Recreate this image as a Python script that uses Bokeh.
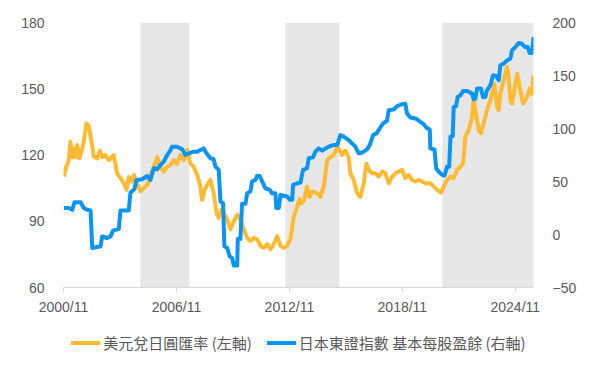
from bokeh.plotting import figure
from bokeh.layouts import column
from bokeh.models import (Range1d, LinearAxis, FixedTicker, BoxAnnotation,
                          Legend, LegendItem, ColumnDataSource)
from bokeh.embed import file_html
from bokeh.resources import INLINE

# ---------------- data (decimal years) ----------------
usd_t = [2000.85, 2000.98, 2001.11, 2001.20, 2001.30, 2001.38, 2001.47, 2001.56, 2001.68, 2001.83,
         2001.91, 2002.05, 2002.18, 2002.36, 2002.44, 2002.62, 2002.76, 2002.89, 2003.06, 2003.24,
         2003.50, 2003.68, 2003.86, 2004.04, 2004.18, 2004.30, 2004.48, 2004.57, 2004.75, 2004.92,
         2005.10, 2005.28, 2005.45, 2005.63, 2005.81, 2005.98, 2006.16, 2006.34, 2006.52, 2006.69,
         2006.87, 2007.05, 2007.22, 2007.40, 2007.58, 2007.75, 2007.93, 2008.07, 2008.20, 2008.32,
         2008.46, 2008.64, 2008.81, 2008.96, 2009.08, 2009.21, 2009.35, 2009.53, 2009.70, 2009.88,
         2010.06, 2010.23, 2010.41, 2010.59, 2010.76, 2010.94, 2011.12, 2011.30, 2011.47, 2011.65,
         2011.83, 2012.00, 2012.18, 2012.36, 2012.53, 2012.71, 2012.89, 2013.06, 2013.24, 2013.38,
         2013.42, 2013.59, 2013.77, 2013.91, 2014.04, 2014.30, 2014.48, 2014.66, 2014.84, 2015.01,
         2015.19, 2015.37, 2015.51, 2015.63, 2015.81, 2015.98, 2016.07, 2016.25, 2016.43, 2016.60,
         2016.78, 2016.92, 2017.05, 2017.23, 2017.40, 2017.58, 2017.76, 2017.93, 2018.11, 2018.29,
         2018.46, 2018.64, 2018.82, 2018.99, 2019.17, 2019.35, 2019.53, 2019.70, 2019.88, 2020.06,
         2020.32, 2020.50, 2020.68, 2020.89, 2021.03, 2021.21, 2021.39, 2021.56, 2021.74, 2021.92,
         2022.06, 2022.18, 2022.36, 2022.54, 2022.62, 2022.71, 2022.89, 2023.01, 2023.15, 2023.33,
         2023.51, 2023.72, 2023.86, 2023.95, 2024.04, 2024.22, 2024.40, 2024.48, 2024.57, 2024.66,
         2024.78, 2024.93, 2025.10, 2025.25, 2025.46, 2025.60, 2025.72, 2025.80]
usd_v = [110.2, 114.7, 117.7, 126.0, 119.0, 123.0, 119.0, 124.5, 118.5, 123.0,
         126.0, 134.3, 133.0, 124.0, 119.2, 118.5, 122.0, 119.0, 120.0, 117.7,
         120.0, 111.7, 109.5, 107.3, 104.2, 110.0, 108.0, 111.0, 107.0, 103.5,
         105.0, 106.5, 111.0, 114.7, 119.0, 114.7, 112.5, 114.7, 115.5, 117.7,
         116.0, 120.0, 117.7, 122.3, 116.0, 114.7, 111.0, 107.0, 99.7, 104.0,
         106.5, 108.7, 102.7, 93.7, 91.5, 95.2, 93.7, 90.7, 86.3, 90.0,
         93.0, 90.7, 86.3, 82.5, 81.0, 82.5, 81.8, 78.8, 78.0, 79.6,
         77.3, 79.6, 83.3, 78.8, 78.0, 78.8, 82.0, 92.0, 96.5, 100.0,
         98.0, 99.0, 105.7, 101.0, 103.5, 102.7, 101.0, 105.7, 117.7, 119.0,
         120.0, 123.7, 122.0, 120.0, 122.0, 119.0, 111.7, 108.7, 102.7, 101.0,
         107.0, 116.2, 113.3, 111.7, 111.7, 110.2, 112.5, 111.7, 107.2, 110.2,
         111.7, 112.5, 113.3, 109.5, 111.0, 108.7, 108.0, 108.7, 108.0, 107.2,
         107.2, 105.7, 104.2, 103.0, 105.7, 108.7, 110.2, 109.5, 113.2, 114.7,
         116.2, 128.3, 131.3, 137.3, 146.3, 140.3, 131.3, 129.8, 134.3, 140.3,
         144.8, 152.3, 141.8, 140.3, 147.8, 153.8, 159.8, 155.3, 144.8, 143.3,
         149.3, 156.8, 149.3, 143.3, 146.3, 150.0, 147.8, 156.0]

eps_t = [2000.85, 2001.11, 2001.30, 2001.42, 2001.74, 2001.91, 2002.09, 2002.27, 2002.36, 2002.62,
         2002.80, 2002.89, 2003.15, 2003.33, 2003.47, 2003.77, 2003.86, 2004.30, 2004.39, 2004.60,
         2004.71, 2005.01, 2005.28, 2005.45, 2005.63, 2005.81, 2005.98, 2006.16, 2006.34, 2006.52,
         2006.60, 2006.87, 2007.14, 2007.31, 2007.49, 2007.75, 2007.93, 2008.11, 2008.28, 2008.43,
         2008.64, 2008.81, 2008.90, 2009.08, 2009.17, 2009.31, 2009.38, 2009.53, 2009.66, 2009.79,
         2009.88, 2010.06, 2010.09, 2010.23, 2010.32, 2010.50, 2010.59, 2010.76, 2010.85, 2011.03,
         2011.12, 2011.26, 2011.39, 2011.56, 2011.79, 2011.91, 2012.09, 2012.14, 2012.27, 2012.36,
         2012.53, 2012.71, 2012.85, 2012.98, 2013.03, 2013.25, 2013.42, 2013.56, 2013.77, 2013.86,
         2014.09, 2014.21, 2014.39, 2014.57, 2014.75, 2014.92, 2015.16, 2015.37, 2015.54, 2015.72,
         2015.98, 2016.16, 2016.34, 2016.51, 2016.69, 2016.96, 2017.10, 2017.28, 2017.46, 2017.63,
         2017.81, 2018.02, 2018.11, 2018.37, 2018.55, 2018.82, 2018.99, 2019.08, 2019.26, 2019.53,
         2019.79, 2019.97, 2020.15, 2020.29, 2020.32, 2020.54, 2020.63, 2020.76, 2020.94, 2021.07,
         2021.21, 2021.32, 2021.39, 2021.51, 2021.56, 2021.69, 2021.77, 2021.92, 2022.06, 2022.27,
         2022.54, 2022.62, 2022.71, 2022.80, 2023.01, 2023.12, 2023.24, 2023.33, 2023.51, 2023.65,
         2023.83, 2023.95, 2024.04, 2024.22, 2024.40, 2024.57, 2024.66, 2024.84, 2025.01, 2025.19,
         2025.36, 2025.49, 2025.60, 2025.72, 2025.80]
eps_v = [24.9, 25.0, 23.3, 30.5, 30.4, 25.0, 23.3, 22.7, -12.7, -11.8,
         -11.2, -1.8, -3.3, -1.8, 3.9, 5.1, 22.7, 22.7, 39.6, 42.7,
         51.5, 52.1, 55.2, 51.5, 62.5, 61.5, 65.6, 68.7, 75.0, 79.7,
         82.8, 82.8, 80.3, 75.0, 76.6, 78.1, 78.1, 79.7, 81.2, 76.6,
         71.9, 71.0, 64.0, 61.0, 31.1, 29.5, -11.2, -12.7, -20.6, -22.2,
         -29.3, -29.3, -4.2, -4.2, 29.0, 29.0, 39.0, 40.6, 49.9, 51.5,
         55.5, 55.2, 49.9, 43.6, 42.0, 38.9, 38.9, 25.0, 25.0, 37.4,
         36.5, 35.8, 32.7, 32.7, 46.8, 48.3, 49.0, 60.9, 62.5, 71.9,
         72.8, 78.1, 81.2, 79.1, 81.2, 82.8, 84.4, 84.4, 93.8, 92.3,
         89.1, 86.0, 82.8, 76.6, 77.2, 80.3, 84.4, 93.8, 95.4, 100.1,
         104.8, 107.3, 117.3, 117.9, 121.0, 122.9, 123.5, 114.2, 110.4, 109.5,
         106.3, 104.1, 100.1, 99.2, 81.2, 80.3, 62.5, 59.4, 56.2, 55.6,
         64.0, 64.0, 92.2, 92.8, 120.4, 121.0, 129.8, 131.3, 135.4, 135.4,
         132.9, 127.6, 128.2, 137.7, 137.7, 129.8, 129.8, 136.0, 140.8, 150.2,
         149.3, 145.5, 159.6, 161.2, 164.3, 165.9, 173.7, 176.8, 180.6, 179.9,
         176.8, 176.8, 171.2, 171.2, 186.2]

shade_start = [2004.92, 2012.62, 2020.96]
shade_end = [2007.52, 2015.49, 2025.80]

x_tick_years = [2000, 2006, 2012, 2018, 2024]
x_tick_labels = ["2000/11", "2006/11", "2012/11", "2018/11", "2024/11"]
left_ticks = [60, 90, 120, 150, 180]
right_ticks = [-50, 0, 50, 100, 150, 200]

series_names = ["美元兌日圓匯率 (左軸)", "日本東證指數 基本每股盈餘 (右軸)"]

# ---------------- helpers ----------------
T0 = 2000 + 10 / 12.0


def to_month(t):
    return (t - T0) * 12.0


X_END = to_month(2025.80)

TXT = "#595959"
FONT = "Liberation Sans"
CJK = "Noto Sans CJK TC"
C_USD = "#FFBA33"
C_EPS = "#0A95F5"

p = figure(width=594, height=317, output_backend="svg", toolbar_location=None,
           x_range=Range1d(0, X_END), y_range=Range1d(60, 180),
           min_border_left=63, min_border_right=61, min_border_top=22,
           min_border_bottom=29)
p.extra_y_ranges = {"right": Range1d(-50, 200)}
p.outline_line_color = None
p.xgrid.visible = False
p.ygrid.visible = False
p.background_fill_color = "white"
p.border_fill_color = "white"

for s, e in zip(shade_start, shade_end):
    p.add_layout(BoxAnnotation(left=to_month(s), right=to_month(e),
                               fill_color="#e7e6e6", fill_alpha=1.0,
                               line_alpha=0, level="underlay"))

src_usd = ColumnDataSource(dict(x=[to_month(t) for t in usd_t], y=usd_v))
src_eps = ColumnDataSource(dict(x=[to_month(t) for t in eps_t], y=eps_v))

p.line("x", "y", source=src_usd, line_color=C_USD, line_width=4, line_join="round")
p.line("x", "y", source=src_eps, line_color=C_EPS, line_width=4, line_join="round",
       y_range_name="right")

# x axis
xa = p.xaxis[0]
month_ticks = [int(round((y + 10 / 12.0 - T0) * 12)) for y in x_tick_years]
xa.ticker = FixedTicker(ticks=month_ticks)
xa.major_label_overrides = {m: lab for m, lab in zip(month_ticks, x_tick_labels)}
xa.axis_line_color = "#d9d9d9"
xa.major_tick_line_color = "#d9d9d9"
xa.major_tick_in = 0
xa.major_tick_out = 5
xa.minor_tick_line_color = None
xa.major_label_text_font = FONT
xa.major_label_text_font_size = "14px"
xa.major_label_text_color = TXT
xa.major_label_standoff = 6

# left axis
ya = p.yaxis[0]
ya.ticker = FixedTicker(ticks=left_ticks)
ya.axis_line_color = None
ya.major_tick_line_color = None
ya.minor_tick_line_color = None
ya.major_label_text_font = FONT
ya.major_label_text_font_size = "14px"
ya.major_label_text_color = TXT
ya.major_label_standoff = 13

# right axis
ra = LinearAxis(y_range_name="right", ticker=FixedTicker(ticks=right_ticks))
ra.axis_line_color = None
ra.major_tick_line_color = None
ra.minor_tick_line_color = None
ra.major_label_text_font = FONT
ra.major_label_text_font_size = "14px"
ra.major_label_text_color = TXT
ra.major_label_standoff = 13
p.add_layout(ra, "right")

# ---------------- legend strip (same series, ranges kept out of view) ----------------
lf = figure(width=594, height=50, output_backend="svg", toolbar_location=None,
            x_axis_location=None, y_axis_location=None,
            x_range=Range1d(0, X_END), y_range=Range1d(1000, 1001),
            min_border=0)
lf.outline_line_color = None
lf.xgrid.visible = False
lf.ygrid.visible = False
lf.border_fill_color = "white"
lf.background_fill_color = "white"
lr1 = lf.line("x", "y", source=src_usd, line_color=C_USD, line_width=4)
lr2 = lf.line("x", "y", source=src_eps, line_color=C_EPS, line_width=4)

legend = Legend(items=[LegendItem(label=series_names[0], renderers=[lr1]),
                       LegendItem(label=series_names[1], renderers=[lr2])],
                orientation="horizontal", location="center")
legend.label_text_font = CJK
legend.label_text_font_size = "15px"
legend.label_text_color = TXT
legend.glyph_width = 30
legend.glyph_height = 20
legend.label_standoff = 3
legend.spacing = 14
legend.padding = 0
legend.margin = 0
legend.border_line_color = None
legend.background_fill_alpha = 0
lf.add_layout(legend)

open("out.html", "w").write(file_html(column(p, lf, spacing=0), INLINE))
